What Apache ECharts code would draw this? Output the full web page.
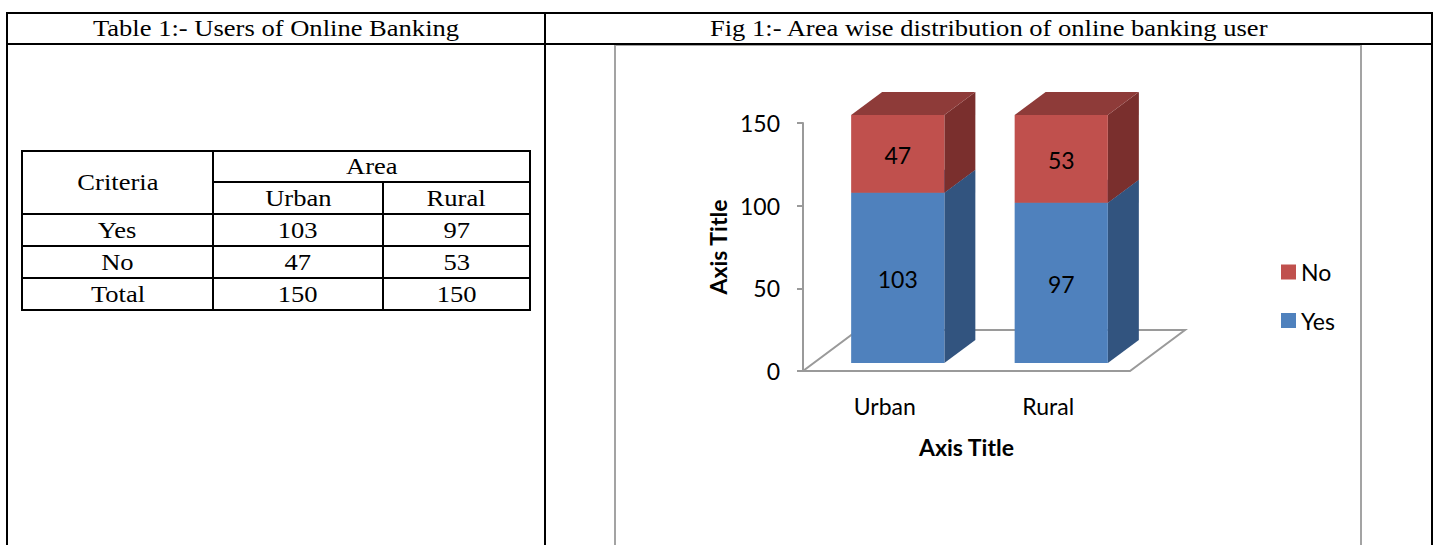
<!DOCTYPE html>
<html>
<head>
<meta charset="utf-8">
<title>Users of Online Banking</title>
<script src="https://cdn.jsdelivr.net/npm/echarts@6/dist/echarts.min.js"></script>
<style>
  html, body { margin: 0; padding: 0; background: #fff; }
  body { width: 1438px; height: 545px; overflow: hidden; position: relative; }
  .ln { position: absolute; background: #000; }
  .gr { position: absolute; background: #a3a3a3; }
  .t {
    position: absolute; display: flex; align-items: center; justify-content: center;
    font-family: "Liberation Serif", "Times New Roman", serif; font-size: 23.5px; color: #000;
    white-space: nowrap;
  }
  .t span { display: inline-block; transform: scaleX(1.13); }
  #chart { position: absolute; left: 0; top: 0; width: 1438px; height: 545px; }
</style>
</head>
<body>
<div id="doc"></div>
<div id="chart"></div>
<script>
// ---- data ----
const areas = ['Urban', 'Rural'];
const criteria = ['Yes', 'No'];
const yesUsers = [103, 97];
const noUsers = [47, 53];
const totalUsers = [150, 150];
const yTicks = [0, 50, 100, 150];
const tableCaption = 'Table 1:- Users of Online Banking';
const figCaption = 'Fig 1:- Area wise distribution of online banking user';

// ---- document frame and table ----
const doc = document.getElementById('doc');
function line(cls, x, y, w, h) {
  const d = document.createElement('div');
  d.className = cls;
  Object.assign(d.style, { left: x + 'px', top: y + 'px', width: w + 'px', height: h + 'px' });
  doc.appendChild(d);
}
function cell(text, x0, x1, y0, y1) {
  const d = document.createElement('div');
  d.className = 't';
  Object.assign(d.style, { left: x0 + 'px', top: y0 + 'px', width: (x1 - x0) + 'px', height: (y1 - y0) + 'px' });
  const s = document.createElement('span');
  s.textContent = text;
  d.appendChild(s);
  doc.appendChild(d);
}

// outer frame
line('ln', 6, 12, 1427, 2);
line('ln', 6, 43, 1427, 2);
line('ln', 6, 12, 2, 540);
line('ln', 544, 12, 2, 540);
line('ln', 1431, 12, 2, 540);
cell(tableCaption, 8, 544, 14, 43);
cell(figCaption, 546, 1431, 14, 43);

// chart frame
line('gr', 614, 45, 2, 510);
line('gr', 1360, 45, 2, 510);
line('gr', 614, 45, 748, 1);

// table grid
const colX = [22, 213, 383, 530];
const rowY = [151, 182, 214, 246, 278, 310];
line('ln', colX[0] - 1, rowY[0] - 1, colX[3] - colX[0] + 2, 2);
line('ln', colX[1], rowY[1] - 1, colX[3] - colX[1], 2);
for (let r = 2; r < rowY.length; r++) line('ln', colX[0] - 1, rowY[r] - 1, colX[3] - colX[0] + 2, 2);
line('ln', colX[0] - 1, rowY[0] - 1, 2, rowY[5] - rowY[0] + 2);
line('ln', colX[1] - 1, rowY[0] - 1, 2, rowY[5] - rowY[0] + 2);
line('ln', colX[2] - 1, rowY[1] - 1, 2, rowY[5] - rowY[1] + 2);
line('ln', colX[3] - 1, rowY[0] - 1, 2, rowY[5] - rowY[0] + 2);

cell('Criteria', colX[0], colX[1], rowY[0], rowY[2]);
cell('Area', colX[1], colX[3], rowY[0], rowY[1]);
areas.forEach((a, i) => cell(a, colX[i + 1], colX[i + 2], rowY[1], rowY[2]));
const rows = [[criteria[0], yesUsers], [criteria[1], noUsers], ['Total', totalUsers]];
rows.forEach(([label, vals], r) => {
  cell(label, colX[0], colX[1], rowY[r + 2], rowY[r + 3]);
  vals.forEach((v, i) => cell(String(v), colX[i + 1], colX[i + 2], rowY[r + 2], rowY[r + 3]));
});

// ---- 3D-looking stacked column chart ----
const FONT = 'Lato, "Open Sans", sans-serif';
const BAR_RATIO = 0.57;
const FRONT = { dx: 13, dy: -8 };   // offset of the bar front from the floor's front edge
const DEPTH = { dx: 31, dy: -23 };  // depth of each column
const FLOOR = { dx: 55, dy: -41 };  // depth of the floor

const palette = {
  Yes: { front: '#4F81BD', top: '#3C6497', side: '#32547F' },
  No:  { front: '#C0504D', top: '#8E3B39', side: '#7A2F2D' }
};

function columnRenderer(colors) {
  return function (params, api) {
    const i = api.value(0), v = api.value(1), base = api.value(2);
    const b = api.coord([i, base]);
    const t = api.coord([i, base + v]);
    const w = api.size([1, 0])[0] * BAR_RATIO;
    const x0 = b[0] - w / 2 + FRONT.dx, x1 = x0 + w;
    const yb = b[1] + FRONT.dy, yt = t[1] + FRONT.dy;
    return {
      type: 'group',
      children: [
        { type: 'polygon', shape: { points: [[x1, yb], [x1 + DEPTH.dx, yb + DEPTH.dy], [x1 + DEPTH.dx, yt + DEPTH.dy], [x1, yt]] }, style: { fill: colors.side } },
        { type: 'polygon', shape: { points: [[x0, yt], [x1, yt], [x1 + DEPTH.dx, yt + DEPTH.dy], [x0 + DEPTH.dx, yt + DEPTH.dy]] }, style: { fill: colors.top } },
        { type: 'rect', shape: { x: x0, y: yt, width: w, height: yb - yt }, style: { fill: colors.front } },
        { type: 'text', x: (x0 + x1) / 2, y: (yt + yb) / 2 + 1,
          style: { text: String(v), fill: '#000', font: '23px ' + FONT, align: 'center', verticalAlign: 'middle' } }
      ]
    };
  };
}

function floorRenderer(params) {
  const c = params.coordSys;
  const xl = c.x, xr = c.x + c.width, yf = c.y + c.height;
  return {
    type: 'polygon',
    shape: { points: [[xl, yf], [xr, yf], [xr + FLOOR.dx, yf + FLOOR.dy], [xl + FLOOR.dx, yf + FLOOR.dy]] },
    style: { fill: 'none', stroke: '#9a9a9a', lineWidth: 2 }
  };
}

const chart = echarts.init(document.getElementById('chart'), null, { renderer: 'svg' });
chart.setOption({
  animation: false,
  backgroundColor: 'transparent',
  textStyle: { fontFamily: FONT },
  grid: { left: 803, top: 123, width: 327, height: 248, containLabel: false },
  legend: {
    data: ['No', 'Yes'],
    orient: 'vertical',
    left: 1276, top: 255,
    icon: 'rect', itemWidth: 15, itemHeight: 15, itemGap: 24.5,
    textStyle: { fontFamily: FONT, fontSize: 23, color: '#000', lineHeight: 24 },
    selectedMode: false
  },
  xAxis: {
    type: 'category',
    data: areas,
    axisLine: { show: false },
    axisTick: { show: false },
    axisLabel: { color: '#000', fontSize: 23, margin: 23, fontFamily: FONT },
    name: 'Axis Title',
    nameLocation: 'middle',
    nameGap: 64,
    nameTextStyle: { color: '#000', fontSize: 23, fontWeight: 'bold', fontFamily: FONT }
  },
  yAxis: {
    type: 'value',
    min: yTicks[0], max: yTicks[yTicks.length - 1], interval: yTicks[1] - yTicks[0],
    splitLine: { show: false },
    axisLine: { show: true, lineStyle: { color: '#9a9a9a', width: 2 } },
    axisTick: { show: true, length: 6, lineStyle: { color: '#9a9a9a', width: 2 } },
    axisLabel: { color: '#000', fontSize: 23, margin: 23, fontFamily: FONT },
    name: 'Axis Title',
    nameLocation: 'middle',
    nameGap: 74,
    nameTextStyle: { color: '#000', fontSize: 23, fontWeight: 'bold', fontFamily: FONT }
  },
  series: [
    { type: 'custom', name: 'floor', silent: true, renderItem: floorRenderer, data: [[0, 0, 0]], encode: { x: 0, y: 1 } },
    { type: 'custom', name: 'Yes', itemStyle: { color: palette.Yes.front }, renderItem: columnRenderer(palette.Yes),
      encode: { x: 0, y: 1 }, data: areas.map((a, i) => [i, yesUsers[i], 0]) },
    { type: 'custom', name: 'No', itemStyle: { color: palette.No.front }, renderItem: columnRenderer(palette.No),
      encode: { x: 0, y: 1 }, data: areas.map((a, i) => [i, noUsers[i], yesUsers[i]]) }
  ]
});
</script>
</body>
</html>
